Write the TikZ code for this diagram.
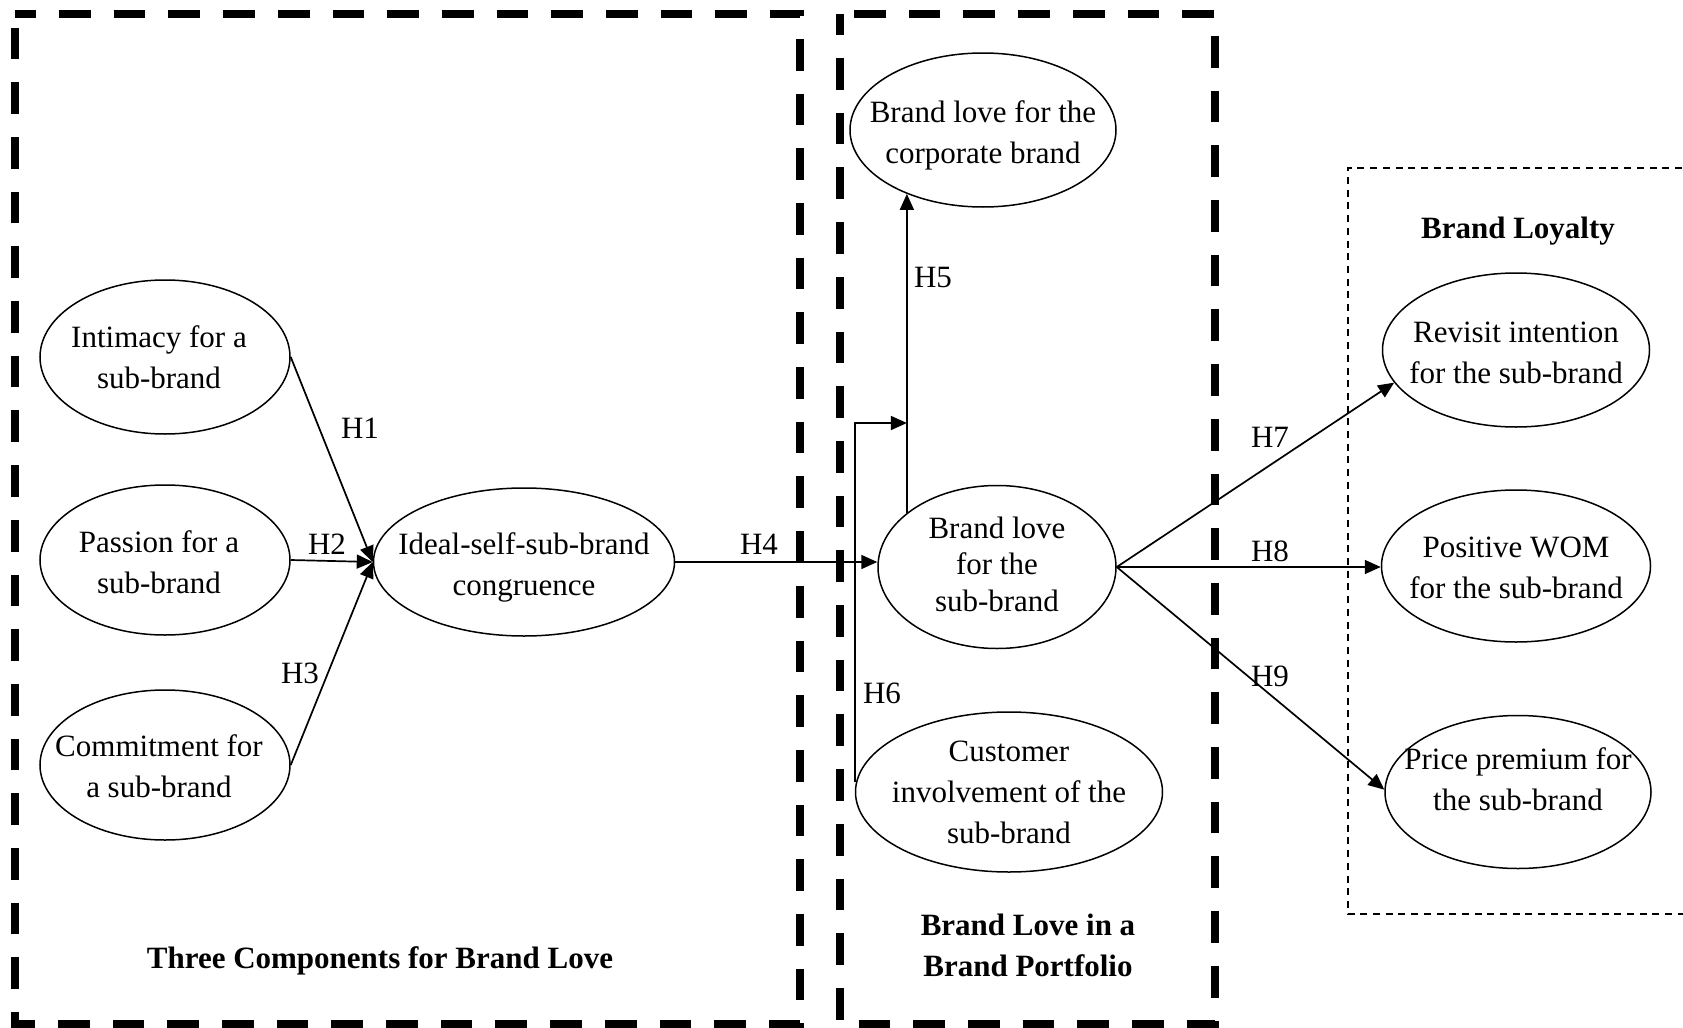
\documentclass[tikz,border=0pt]{standalone}
\usepackage{fontspec}
\setmainfont{Liberation Serif}
\usetikzlibrary{arrows.meta,shapes.geometric}
\newcommand\diagfont{\fontsize{15.5}{20.5}\selectfont}
\tikzset{
  concept/.style={ellipse, draw, line width=0.75pt, inner sep=0pt},
  ctext/.style={align=center, inner sep=0pt, font=\diagfont},
  hyp/.style={inner sep=0pt, font=\diagfont},
  grouptitle/.style={align=center, inner sep=0pt, font=\diagfont\bfseries},
  arr/.style={-{Triangle[length=8pt,width=7pt]}, line width=0.85pt},
  heavydash/.style={line width=3.75pt, dash pattern=on 15.85pt off 11.5pt, dash phase=5.35pt},
  lightdash/.style={line width=0.85pt, dash pattern=on 3.5pt off 2.85pt}
}
\begin{document}
\begin{tikzpicture}[x=0.5pt,y=-0.5pt]
\useasboundingbox (0,0) rectangle (1683,1028);

% group frames
\draw[heavydash] (15,14) -- (800,14) -- (800,1024) -- (15,1024) -- cycle;
\draw[heavydash] (840,14) -- (840,1024) -- (1215,1024) -- (1215,14) -- cycle;
\draw[lightdash] (1720,168) -- (1348,168) -- (1348,914) -- (1720,914);

% group titles
\node[grouptitle] (t1) at (380,961) {Three Components for Brand Love};
\node[grouptitle] (t2) at (1028,945) {Brand Love in a\\Brand Portfolio};
\node[grouptitle] (t3) at (1518,231) {Brand Loyalty};

% constructs
\node[concept, minimum width=125pt, minimum height=77pt] (int) at (165,357) {};
\node[ctext] at (159,357) {Intimacy for a\\sub-brand};
\node[concept, minimum width=125pt, minimum height=75pt] (pas) at (165,560) {};
\node[ctext] at (159,562) {Passion for a\\sub-brand};
\node[concept, minimum width=125pt, minimum height=75pt] (com) at (165,765) {};
\node[ctext] at (159,766) {Commitment for\\a sub-brand};
\node[concept, minimum width=150.5pt, minimum height=74pt] (ide) at (524,562) {};
\node[ctext] at (524,567) {Ideal-self-sub-brand\\congruence};
\node[concept, minimum width=133pt, minimum height=77pt] (cor) at (983,130) {};
\node[ctext] at (983,135) {Brand love for the\\corporate brand};
\node[concept, minimum width=119pt, minimum height=81.5pt] (sub) at (997,567) {};
\node[ctext, font=\fontsize{15.5}{18.25}\selectfont] at (997,564) {Brand love\\for the\\sub-brand};
\node[concept, minimum width=153.5pt, minimum height=80pt] (inv) at (1009,792) {};
\node[ctext] at (inv) {Customer\\involvement of the\\sub-brand};
\node[concept, minimum width=133.5pt, minimum height=77pt] (rev) at (1516,350) {};
\node[ctext] at (1516,353) {Revisit intention\\for the sub-brand};
\node[concept, minimum width=134.5pt, minimum height=76pt] (wom) at (1516,566) {};
\node[ctext] at (1516,568) {Positive WOM\\for the sub-brand};
\node[concept, minimum width=133pt, minimum height=76.5pt] (pri) at (1518,792) {};
\node[ctext] at (1518,779) {Price premium for\\the sub-brand};

% hypothesised paths
\draw[arr] (int.east) -- (ide.west);
\draw[arr] (pas.east) -- (ide.west);
\draw[arr] (com.east) -- (ide.west);
\draw[arr] (ide.east) -- (ide.east -| sub.west);
\draw[arr] (sub.149) -- (sub.149 |- cor.220);
\coordinate (mod) at (sub.149 |- 0,423);
\draw[arr] (inv.west |- 0,782) |- (mod);
\draw[arr] (sub.east) -- (rev.195);
\draw[arr] (sub.east) -- (sub.east -| wom.west);
\draw[arr] (sub.east) -- (pri.179);

% path labels
\node[hyp] (h1) at (360,428) {H1};
\node[hyp] (h2) at (327,544) {H2};
\node[hyp] (h3) at (300,673) {H3};
\node[hyp] (h4) at (759,544) {H4};
\node[hyp] (h5) at (933,277) {H5};
\node[hyp] (h6) at (882,693) {H6};
\node[hyp] (h7) at (1270,437) {H7};
\node[hyp] (h8) at (1270,551) {H8};
\node[hyp] (h9) at (1270,676) {H9};
\end{tikzpicture}
\end{document}
